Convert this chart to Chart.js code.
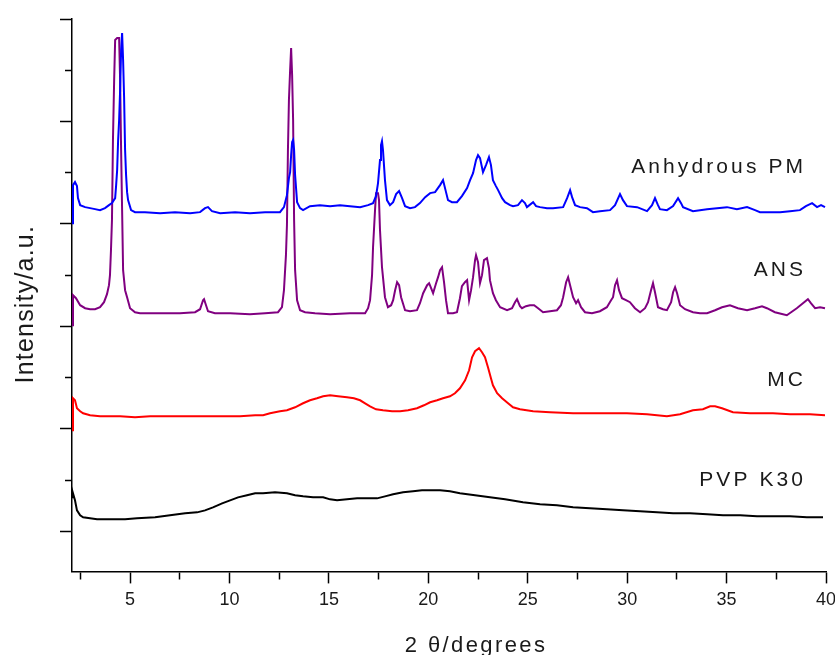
<!DOCTYPE html>
<html>
<head>
<meta charset="utf-8">
<script src="https://cdn.jsdelivr.net/npm/chart.js@4.4.1/dist/chart.umd.min.js"></script>
<style>
html,body{margin:0;padding:0;background:#ffffff;}
#wrap{width:835px;height:655px;}
</style>
</head>
<body>
<div id="wrap"><canvas id="c" width="835" height="655"></canvas></div>
<script>
// ---- data (2θ in degrees, intensity in a.u., curves stacked as in the figure) ----
const pmTheta = [2.08,2.13,2.23,2.33,2.38,2.49,2.74,2.99,3.24,3.49,3.74,3.94,4.09,4.25,4.30,4.35,4.40,4.45,4.50,4.55,4.60,4.65,4.70,4.75,4.80,4.85,4.90,5.05,5.25,5.75,6.51,7.26,8.02,8.52,8.77,8.92,9.12,9.53,10.28,11.03,11.79,12.54,12.74,12.89,12.99,13.05,13.10,13.15,13.20,13.25,13.30,13.40,13.55,13.70,14.05,14.55,15.06,15.56,16.06,16.57,16.97,17.22,17.37,17.47,17.57,17.62,17.67,17.72,17.82,17.92,18.07,18.23,18.38,18.53,18.68,18.83,19.08,19.33,19.58,19.84,20.09,20.34,20.59,20.74,20.89,20.99,21.19,21.44,21.69,21.95,22.10,22.25,22.40,22.50,22.60,22.75,22.90,23.05,23.15,23.25,23.40,23.51,23.71,23.86,24.11,24.26,24.51,24.71,24.86,24.96,25.27,25.42,25.62,25.97,26.27,26.78,26.98,27.13,27.23,27.38,27.63,27.98,28.28,28.63,29.14,29.39,29.64,29.79,29.99,30.50,31.00,31.25,31.40,31.55,31.65,32.00,32.31,32.56,32.71,32.81,33.31,33.66,34.02,34.52,35.02,35.52,36.03,36.43,36.68,37.18,37.69,38.19,38.69,38.99,39.30,39.55,39.75,39.95];
const pmIntensity = [308,346,349,345,333,326,324,323,322,321,323,326,328,333,346,361,391,411,441,481,498,471,434,381,356,339,331,321,319,319,318,319,318,319,323,324,320,318,319,318,319,319,324,336,353,359,376,389,391,381,356,329,323,321,325,326,325,326,325,324,326,328,335,348,371,386,390,381,351,331,326,329,337,340,333,325,323,324,328,334,338,339,346,351,339,331,329,329,335,343,351,358,371,376,373,359,366,374,366,351,345,341,333,329,326,325,326,331,328,324,329,325,324,323,323,324,333,341,334,326,324,323,319,320,321,326,337,331,325,324,320,326,333,326,322,321,325,333,328,324,320,321,322,323,324,322,324,321,319,319,319,320,321,325,328,324,326,324];

const ansTheta = [2.08,2.13,2.28,2.49,2.74,2.99,3.24,3.49,3.69,3.84,3.94,3.99,4.04,4.09,4.14,4.20,4.25,4.35,4.45,4.50,4.55,4.60,4.65,4.75,4.85,5.00,5.25,5.50,6.51,7.51,8.27,8.52,8.67,8.72,8.82,8.92,9.27,10.03,11.03,11.79,12.44,12.64,12.74,12.84,12.89,12.94,12.99,13.05,13.10,13.15,13.20,13.25,13.30,13.40,13.55,13.80,14.30,15.06,16.06,16.82,16.97,17.07,17.17,17.22,17.32,17.37,17.47,17.52,17.57,17.67,17.82,17.97,18.13,18.23,18.33,18.43,18.53,18.63,18.83,19.08,19.43,19.58,19.74,19.94,20.04,20.14,20.24,20.39,20.49,20.59,20.69,20.79,20.89,20.99,21.24,21.44,21.59,21.69,21.84,21.95,22.05,22.15,22.25,22.35,22.40,22.50,22.60,22.70,22.80,22.95,23.05,23.10,23.25,23.40,23.61,23.96,24.21,24.36,24.46,24.61,24.71,24.91,25.11,25.32,25.52,25.77,26.12,26.47,26.67,26.78,26.93,27.03,27.13,27.28,27.43,27.53,27.68,27.88,28.23,28.63,28.98,29.19,29.29,29.39,29.49,29.59,29.74,29.94,30.14,30.39,30.65,30.90,31.05,31.20,31.30,31.40,31.55,31.80,32.00,32.21,32.31,32.41,32.51,32.66,32.91,33.31,33.66,34.02,34.42,34.77,35.17,35.57,36.03,36.43,36.78,37.03,37.43,38.03,38.53,38.84,39.09,39.24,39.45,39.70,39.95];
const ansIntensity = [206,236,233,226,223,222,222,224,229,237,246,256,281,311,391,451,491,493,493,451,381,321,261,241,234,223,219,218,218,218,219,222,231,232,226,220,218,218,217,218,219,224,241,276,306,381,431,461,483,456,411,311,261,231,221,219,218,217,218,218,223,231,256,284,321,338,338,331,301,264,234,224,226,231,241,249,246,234,221,220,221,228,238,246,248,243,238,248,254,261,264,249,231,218,218,219,233,245,249,251,231,241,254,271,276,269,248,256,271,273,263,251,238,231,224,221,223,229,232,225,223,225,226,226,223,219,220,221,226,234,249,254,246,234,228,231,224,219,218,220,224,231,234,246,251,241,233,231,229,223,219,223,229,241,248,239,224,222,221,229,239,244,238,226,222,219,218,218,221,224,226,223,221,223,225,223,219,216,223,228,232,228,223,224,223];

const mcTheta = [2.08,2.13,2.23,2.33,2.49,2.64,2.99,3.49,4.00,4.50,5.25,6.01,6.76,7.51,8.27,9.02,9.78,10.53,11.29,11.69,12.04,12.54,12.89,13.30,13.70,14.05,14.40,14.71,15.06,15.46,15.91,16.26,16.57,16.82,17.07,17.37,17.72,18.18,18.58,18.98,19.43,19.78,20.09,20.44,20.74,21.09,21.34,21.59,21.85,22.05,22.20,22.35,22.55,22.70,22.85,23.00,23.15,23.25,23.46,23.71,24.01,24.26,24.61,25.27,26.12,27.28,28.63,29.99,31.00,32.00,32.66,33.31,33.81,34.17,34.42,34.77,35.32,36.18,37.33,38.19,39.19,39.95];
const mcIntensity = [101,133,131,123,120,118,116,115,115,115,114,115,115,115,115,115,115,115,116,116,118,120,121,124,128,131,133,135,136,135,134,133,131,128,125,122,121,120,120,121,123,126,129,131,133,135,138,143,151,161,174,180,183,179,174,164,153,146,138,133,128,124,122,120,119,118,118,118,117,115,117,121,122,125,125,123,119,118,118,117,117,116];

const pvpTheta = [2.08,2.13,2.23,2.33,2.49,2.64,2.99,3.34,4.00,4.75,5.35,6.26,7.01,7.77,8.37,8.77,9.17,9.63,10.03,10.43,10.88,11.29,11.69,12.29,12.89,13.30,13.70,14.20,14.71,15.06,15.41,15.91,16.42,16.92,17.42,17.82,18.23,18.73,19.23,19.68,20.09,20.59,21.09,21.59,22.35,23.10,23.86,24.76,25.62,26.47,27.28,28.13,28.98,29.79,30.65,31.50,32.31,33.16,34.02,34.82,35.68,36.53,37.33,38.19,39.04,39.85];
const pvpIntensity = [34,38,31,21,16,14,13,12,12,12,13,14,16,18,19,21,24,28,31,34,36,38,38,39,38,36,35,34,34,32,31,32,33,33,33,35,37,39,40,41,41,41,40,38,36,34,32,29,27,26,24,23,22,21,20,19,18,18,17,16,16,15,15,15,14,14];

const seriesNames = ['Anhydrous PM', 'ANS', 'MC', 'PVP K30'];
const xTickValues = [2.5,5,7.5,10,12.5,15,17.5,20,22.5,25,27.5,30,32.5,35,37.5,40];
const xTickLabels = ['', '5', '', '10', '', '15', '', '20', '', '25', '', '30', '', '35', '', '40'];
const yTickValues = [0,51.2,102.4,153.6,204.8,256,307.2,358.4,409.6,460.8,512];
const xAxisTitle = '2 θ/degrees';
const yAxisTitle = 'Intensity/a.u.';

// ---- build ----
const toXY = (xs, ys) => xs.map((x, i) => ({x: x, y: ys[i]}));
const colors = ['#0000ff', '#800080', '#ff0000', '#000000'];
const datasets = [
  {label: seriesNames[0], data: toXY(pmTheta, pmIntensity)},
  {label: seriesNames[1], data: toXY(ansTheta, ansIntensity)},
  {label: seriesNames[2], data: toXY(mcTheta, mcIntensity)},
  {label: seriesNames[3], data: toXY(pvpTheta, pvpIntensity)}
].map((d, i) => Object.assign(d, {
  borderColor: colors[i], backgroundColor: colors[i], borderWidth: 2,
  pointRadius: 0, tension: 0, fill: false
}));

// label anchors (right edge x in degrees, baseline y in a.u.)
const labelAnchors = [[39.0, 358], [39.0, 255], [39.0, 145], [39.0, 45]];

const textPlugin = {
  id: 'texts',
  afterDraw(chart) {
    const ctx = chart.ctx, xs = chart.scales.x, ys = chart.scales.y;
    ctx.save();
    ctx.fillStyle = '#1a1a1a';
    // series labels
    ctx.font = '21px "Liberation Sans", Arial, sans-serif';
    ctx.letterSpacing = '3.1px';
    ctx.textAlign = 'right';
    ctx.textBaseline = 'alphabetic';
    seriesNames.forEach((n, i) => {
      ctx.fillText(n, xs.getPixelForValue(labelAnchors[i][0]), ys.getPixelForValue(labelAnchors[i][1]));
    });
    // x axis title
    ctx.font = '22px "Liberation Sans", Arial, sans-serif';
    ctx.letterSpacing = '2.4px';
    ctx.textAlign = 'center';
    ctx.fillText(xAxisTitle, xs.getPixelForValue(22.4), chart.height - 3);
    // y axis title
    ctx.font = '25px "Liberation Sans", Arial, sans-serif';
    ctx.letterSpacing = '1.2px';
    ctx.translate(33, (ys.top + ys.bottom) / 2 + 9);
    ctx.rotate(-Math.PI / 2);
    ctx.fillText(yAxisTitle, 0, 0);
    ctx.restore();
  }
};

new Chart(document.getElementById('c'), {
  type: 'line',
  data: {datasets: datasets},
  plugins: [textPlugin],
  options: {
    responsive: false,
    animation: false,
    devicePixelRatio: 1,
    layout: {padding: {left: 60, top: 19, right: 9, bottom: 38}},
    plugins: {legend: {display: false}, tooltip: {enabled: false}, title: {display: false}},
    scales: {
      x: {
        type: 'linear', min: 2.08, max: 40,
        afterBuildTicks: s => { s.ticks = xTickValues.map(v => ({value: v})); },
        afterFit: s => { s.paddingRight = 0; s.paddingLeft = 0; },
        ticks: {
          autoSkip: false, maxRotation: 0, padding: 6, color: '#1a1a1a',
          font: {family: '"Liberation Sans", Arial, sans-serif', size: 18},
          callback: (v, i) => xTickLabels[i]
        },
        grid: {
          drawOnChartArea: false, drawTicks: true, tickLength: 12, tickWidth: 1.5, tickColor: '#000',
          tickBorderDash: c => (c.index % 2 === 1) ? [] : [7, 30]
        },
        border: {display: true, color: '#000', width: 1.5}
      },
      y: {
        type: 'linear', min: -40, max: 512,
        afterBuildTicks: s => { s.ticks = yTickValues.map(v => ({value: v})); },
        afterFit: s => { s.paddingTop = 0; s.paddingBottom = 0; },
        ticks: {display: false},
        grid: {
          drawOnChartArea: false, drawTicks: true, tickLength: 12, tickWidth: 1.5, tickColor: '#000',
          tickBorderDash: c => (c.index % 2 === 0) ? [] : [0, 5, 30, 0]
        },
        border: {display: true, color: '#000', width: 1.5}
      }
    }
  }
});
</script>
</body>
</html>
